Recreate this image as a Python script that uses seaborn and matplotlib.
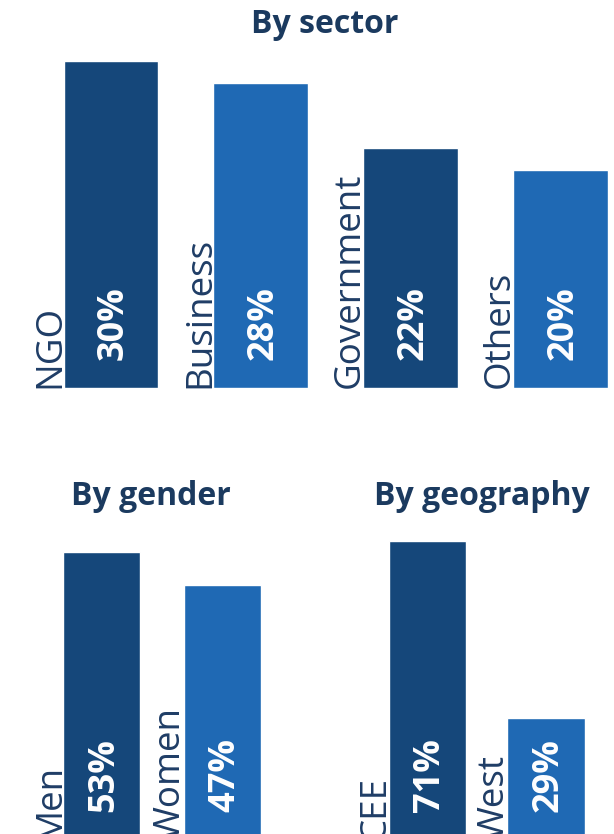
import matplotlib
matplotlib.use("Agg")
import matplotlib.pyplot as plt
import seaborn as sns

# Dados
sector_labels = ["NGO", "Business", "Government", "Others"]
sector_values = [30, 28, 22, 20]

gender_labels = ["Men", "Women"]
gender_values = [53, 47]

geo_labels = ["CEE", "West"]
geo_values = [71, 29]

DARK = "#15477a"
LIGHT = "#1f69b4"
TITLE_COLOR = "#1b3a5f"
LABEL_COLOR = "#1f3d66"

sns.set_style("white")
plt.rcParams["font.family"] = ["Open Sans", "DejaVu Sans"]

W, H, DPI = 614, 834, 100
fig = plt.figure(figsize=(W / DPI, H / DPI), dpi=DPI)


def px_axes(left, right, top, baseline):
    # posição dos eixos em pixels -> fração da figura
    return fig.add_axes([left / W, (H - baseline) / H, (right - left) / W, (baseline - top) / H])


def draw_panel(ax, labels, values, bar_w, first_center, spacing, px_left, px_right, px_per_unit, px_height):
    colors = [DARK if i % 2 == 0 else LIGHT for i in range(len(labels))]
    sns.barplot(x=labels, y=values, hue=labels, palette=colors, width=bar_w,
                saturation=1, legend=False, ax=ax)
    ax.set_xlim((px_left - first_center) / spacing, (px_right - first_center) / spacing)
    ax.set_ylim(0, px_height / px_per_unit)
    ax.set_axis_off()
    for i, (lab, val) in enumerate(zip(labels, values)):
        # rótulo percentual dentro da barra
        ax.annotate(f"{val}%", xy=(i, 0), xytext=(2, 20), textcoords="offset points",
                    rotation=90, ha="center", va="bottom", color="white",
                    fontsize=26, fontweight="bold")
        # nome da categoria à esquerda da barra
        ax.annotate(lab, xy=(i - bar_w / 2, 0), xytext=(3.5, 0), textcoords="offset points",
                    rotation=90, ha="right", va="bottom", color=LABEL_COLOR, fontsize=26.5)


# By sector
ax1 = px_axes(0, 614, 50, 388)
draw_panel(ax1, sector_labels, sector_values, 0.634, 111, 149.8, 0, 614, 10.9, 338)

# By gender
ax2 = px_axes(0, 307, 500, 840)
draw_panel(ax2, gender_labels, gender_values, 0.636, 101.5, 121, 0, 307, 5.43, 340)

# By geography
ax3 = px_axes(307, 614, 500, 840)
draw_panel(ax3, geo_labels, geo_values, 0.65, 427.5 - 307, 118.5, 0, 307, 4.21, 340)

fig.text(325 / W, (H - 33) / H, "By sector", ha="center", va="baseline",
         fontsize=23, fontweight="bold", color=TITLE_COLOR)
fig.text(151 / W, (H - 505) / H, "By gender", ha="center", va="baseline",
         fontsize=23, fontweight="bold", color=TITLE_COLOR)
fig.text(482 / W, (H - 505) / H, "By geography", ha="center", va="baseline",
         fontsize=23, fontweight="bold", color=TITLE_COLOR)

fig.savefig("out.png", dpi=DPI)
